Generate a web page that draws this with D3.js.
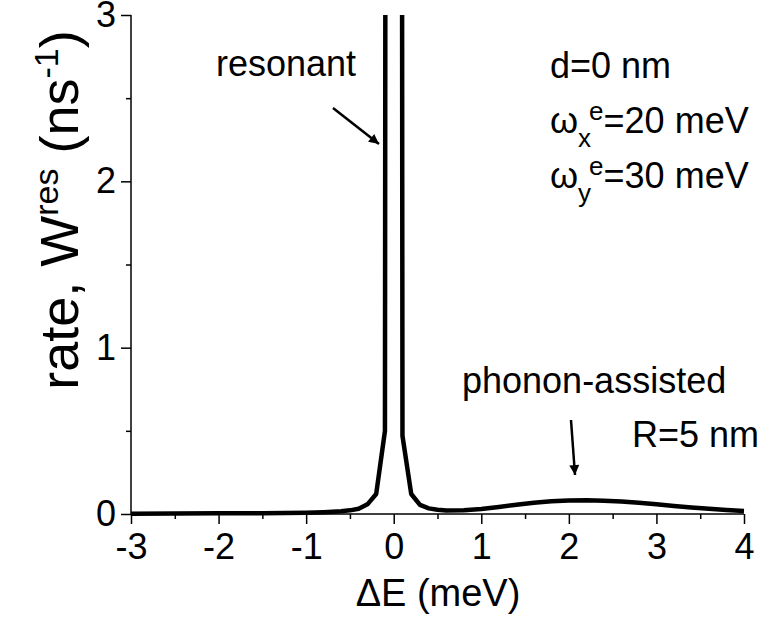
<!DOCTYPE html>
<html>
<head>
<meta charset="utf-8">
<script src="https://cdn.jsdelivr.net/npm/d3@7"></script>
<style>
  body { margin: 0; background: #fff; }
  text { font-family: "Liberation Sans", Arial, sans-serif; fill: #000; }
</style>
</head>
<body>
<div id="graph"></div>
<script>
// energy detuning (meV) and transfer rate (ns^-1)
let deltaE = [-3.0, -2.5, -2.0, -1.5, -1.0, -0.8, -0.6, -0.5, -0.4, -0.3, -0.2, -0.1, 0.0,
  0.1, 0.2, 0.3, 0.4, 0.5, 0.6, 0.8, 1.0, 1.2, 1.4, 1.6, 1.8, 2.0, 2.2, 2.4, 2.6, 2.8,
  3.0, 3.2, 3.4, 3.6, 3.8, 4.0];
let rate = [0.002, 0.003, 0.004, 0.005, 0.008, 0.011, 0.016, 0.022, 0.032, 0.058, 0.12, 0.50, 60,
  0.47, 0.12, 0.055, 0.034, 0.025, 0.021, 0.022, 0.030, 0.042, 0.056, 0.068, 0.076, 0.081, 0.082, 0.080, 0.075, 0.067,
  0.058, 0.048, 0.039, 0.031, 0.024, 0.018];

let xTicks = [-3, -2, -1, 0, 1, 2, 3, 4];
let xMinor = [-2.5, -1.5, -0.5, 0.5, 1.5, 2.5, 3.5];
let yTicks = [0, 1, 2, 3];
let yMinor = [0.5, 1.5, 2.5];

let svgWidth = 765, svgHeight = 621;
let margin = { top: 15, right: 21, bottom: 107, left: 131 };
let width = svgWidth - margin.left - margin.right;
let height = svgHeight - margin.top - margin.bottom;

let data = deltaE.map((x, i) => ({ x: x, y: rate[i] }));

let xScale = d3.scaleLinear().domain([-3, 4]).range([0, width]);
let yScale = d3.scaleLinear().domain([0, 3]).range([height, 0]);

let svg = d3.select("#graph")
  .append("svg")
  .attr("width", svgWidth)
  .attr("height", svgHeight);

let defs = svg.append("defs");
defs.append("clipPath").attr("id", "plotClip")
  .append("rect").attr("x", -5).attr("y", 0).attr("width", width + 10).attr("height", height + 5);
defs.append("marker")
  .attr("id", "arrow")
  .attr("viewBox", "0 0 10 10")
  .attr("refX", 10).attr("refY", 5)
  .attr("markerWidth", 5).attr("markerHeight", 4)
  .attr("markerUnits", "strokeWidth")
  .attr("orient", "auto")
  .append("path")
  .attr("d", "M0,0 L10,5 L0,10 Z")
  .attr("fill", "#000");

let chartGroup = svg.append("g")
  .attr("transform", `translate(${margin.left},${margin.top})`);

// axes: major ticks with labels (plain hyphen for negatives), then minor ticks
let plain = d => String(d);
let xAxis = d3.axisBottom(xScale).tickValues(xTicks).tickSize(10).tickPadding(6).tickFormat(plain);
let yAxis = d3.axisLeft(yScale).tickValues(yTicks).tickSize(10).tickPadding(5).tickFormat(plain);

let gx = chartGroup.append("g")
  .attr("transform", `translate(0, ${height})`)
  .call(xAxis);
gx.append("g").call(d3.axisBottom(xScale).tickValues(xMinor).tickSize(5).tickFormat(""))
  .select(".domain").remove();

let gy = chartGroup.append("g").call(yAxis);
gy.append("g").call(d3.axisLeft(yScale).tickValues(yMinor).tickSize(5).tickFormat(""))
  .select(".domain").remove();

[gx, gy].forEach(g => {
  g.selectAll(".domain").attr("stroke", "#000").attr("stroke-width", 1.5);
  g.selectAll("line").attr("stroke", "#000").attr("stroke-width", 1.5);
  g.selectAll("text").style("font-size", "36px");
});
gx.selectAll("text").attr("dy", "0.8em");
gx.select(".domain").attr("d", `M0,0H${width}`);
gy.select(".domain").attr("d", `M0,${height}V0`);

// the rate curve
let line = d3.line().x(d => xScale(d.x)).y(d => yScale(d.y));
chartGroup.append("path")
  .datum(data)
  .attr("clip-path", "url(#plotClip)")
  .attr("fill", "none")
  .attr("stroke", "#000")
  .attr("stroke-width", 4.5)
  .attr("stroke-linejoin", "round")
  .attr("d", line);

// axis titles
svg.append("text")
  .attr("x", 438).attr("y", 606)
  .attr("text-anchor", "middle")
  .style("font-size", "38px")
  .text("\u0394E (meV)");

let yLabel = svg.append("text")
  .attr("transform", "translate(78, 210) rotate(-90)")
  .attr("text-anchor", "middle")
  .style("font-size", "54px");
yLabel.append("tspan").text("rate, W");
yLabel.append("tspan").attr("dy", -20).style("font-size", "34px").text("res");
yLabel.append("tspan").attr("dy", 20).text(" (ns");
yLabel.append("tspan").attr("dy", -20).style("font-size", "34px").text("-1");
yLabel.append("tspan").attr("dy", 20).text(")");

// annotations
svg.append("text").attr("x", 216).attr("y", 76).style("font-size", "36px").text("resonant");
svg.append("line")
  .attr("x1", 333).attr("y1", 108).attr("x2", 379).attr("y2", 144)
  .attr("stroke", "#000").attr("stroke-width", 2.5)
  .attr("marker-end", "url(#arrow)");

svg.append("text").attr("x", 462).attr("y", 393).style("font-size", "36px").text("phonon-assisted");
svg.append("line")
  .attr("x1", 571).attr("y1", 420).attr("x2", 575).attr("y2", 475)
  .attr("stroke", "#000").attr("stroke-width", 2.5)
  .attr("marker-end", "url(#arrow)");

svg.append("text").attr("x", 632).attr("y", 447).style("font-size", "36px").text("R=5 nm");

svg.append("text").attr("x", 550).attr("y", 78).style("font-size", "36px").text("d=0 nm");

let omegaRows = [{ sub: "x", rest: "=20 meV", y: 133 }, { sub: "y", rest: "=30 meV", y: 188 }];
omegaRows.forEach(r => {
  let t = svg.append("text").attr("x", 550).attr("y", r.y).style("font-size", "36px");
  t.append("tspan").text("\u03c9");
  t.append("tspan").attr("dy", 14).style("font-size", "26px").text(r.sub);
  t.append("tspan").attr("dy", -27).attr("dx", -2).style("font-size", "26px").text("e");
  t.append("tspan").attr("dy", 13).text(r.rest);
});
</script>
</body>
</html>
